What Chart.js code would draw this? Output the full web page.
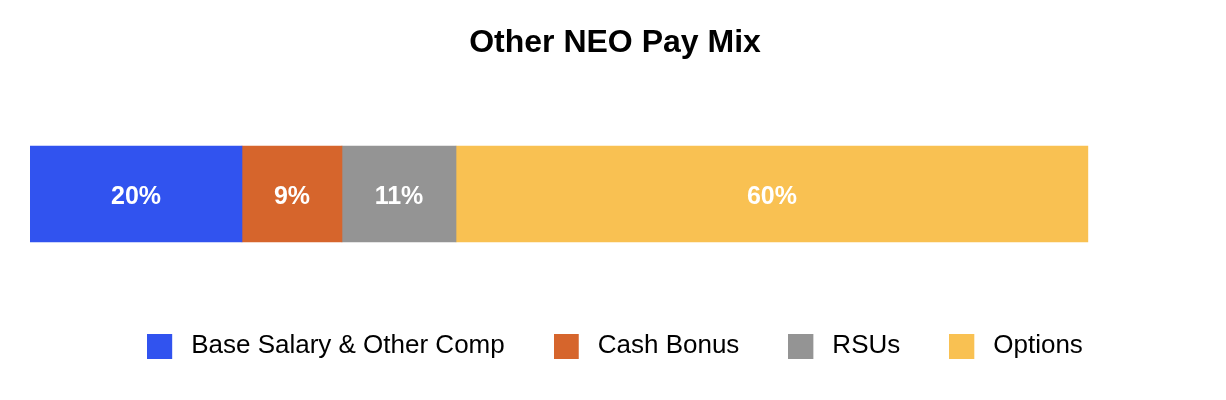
<!DOCTYPE html>
<html>
<head>
<meta charset="utf-8">
<title>Other NEO Pay Mix</title>
<script src="https://cdn.jsdelivr.net/npm/chart.js@4/dist/chart.umd.min.js"></script>
<style>
  body { margin: 0; background: #fff; }
</style>
</head>
<body>
<canvas id="grafico-mix" width="1226" height="400"></canvas>
<script>
// dados do gráfico
const categorias = ["Other NEO"];
const series = ["Base Salary & Other Comp", "Cash Bonus", "RSUs", "Options"];
const valores = [20.04, 9.45, 10.78, 59.73];
const cores = ["#3153EF", "#D6652C", "#949494", "#F9C152"];

const fonte = "Arial, 'Liberation Sans', sans-serif";

// quadradinho da legenda com um espaço à direita
const criarQuadrado = (cor) => {
    const c = document.createElement("canvas");
    c.width = 31;
    c.height = 25;
    const ctx = c.getContext("2d");
    ctx.fillStyle = cor;
    ctx.fillRect(0, 0, 25, 25);
    return c;
};

// rótulos de porcentagem dentro das barras
const rotulosPlugin = {
    id: "rotulos",
    afterDatasetsDraw(chart) {
        const ctx = chart.ctx;
        ctx.save();
        ctx.font = "bold 25px " + fonte;
        ctx.fillStyle = "#ffffff";
        ctx.textAlign = "center";
        ctx.textBaseline = "middle";
        chart.data.datasets.forEach((ds, i) => {
            chart.getDatasetMeta(i).data.forEach((bar, j) => {
                const p = bar.getProps(["x", "y", "base"], true);
                const cx = (p.x + p.base) / 2;
                ctx.fillText(Math.round(ds.data[j]) + "%", cx, p.y + 3);
            });
        });
        ctx.restore();
    }
};

const datasets = series.map((nome, i) => ({
    label: nome,
    data: [valores[i]],
    backgroundColor: cores[i],
    borderWidth: 0,
    barThickness: 96,
    pointStyle: criarQuadrado(cores[i])
}));

new Chart(document.getElementById("grafico-mix"), {
    type: "bar",
    data: {
        labels: categorias,
        datasets: datasets
    },
    plugins: [rotulosPlugin],
    options: {
        indexAxis: "y",
        responsive: false,
        animation: false,
        layout: {
            padding: { left: 30, right: 26, top: 0, bottom: 31 }
        },
        scales: {
            x: { stacked: true, display: false, min: 0, max: 110.6 },
            y: { stacked: true, display: false }
        },
        plugins: {
            title: {
                display: true,
                text: "Other NEO Pay Mix",
                color: "#000000",
                font: { family: fonte, size: 32, weight: "bold" },
                padding: { top: 24, bottom: 41.6 }
            },
            legend: {
                position: "bottom",
                labels: {
                    usePointStyle: true,
                    pointStyleWidth: 31,
                    boxHeight: 25,
                    padding: 49,
                    color: "#000000",
                    font: { family: fonte, size: 26 }
                }
            },
            tooltip: { enabled: false }
        }
    }
});
</script>
</body>
</html>
